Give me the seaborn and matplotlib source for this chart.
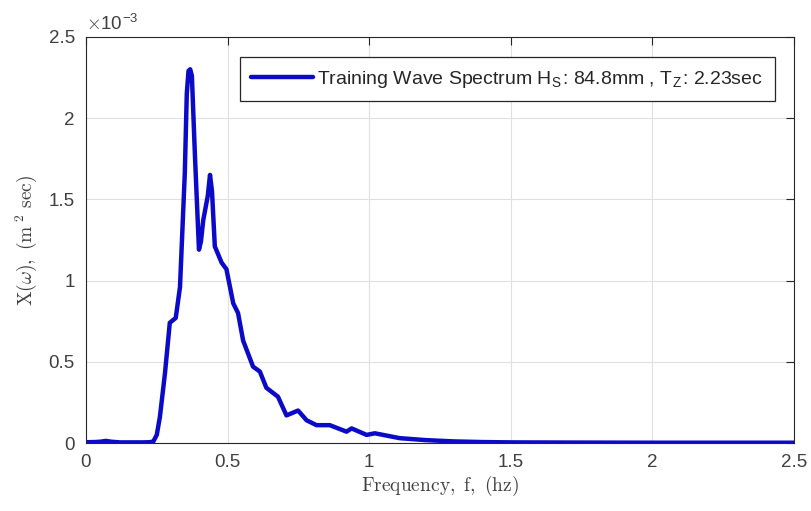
import numpy as np
import pandas as pd
import matplotlib
matplotlib.use("Agg")
import matplotlib.pyplot as plt
import seaborn as sns
from matplotlib.ticker import FuncFormatter

# Data (spectral density in units of 1e-3 m^2 sec)
freq = [0.0, 0.03, 0.05, 0.07, 0.09, 0.12, 0.16, 0.20, 0.225, 0.238, 0.25, 0.261, 0.279,
        0.296, 0.317, 0.332, 0.349, 0.356, 0.362, 0.368, 0.374, 0.385, 0.399, 0.406, 0.414,
        0.430, 0.438, 0.445, 0.455,
        0.479, 0.496, 0.520, 0.537, 0.555, 0.590, 0.614, 0.637, 0.678, 0.708, 0.749,
        0.779, 0.814, 0.861, 0.920, 0.938, 0.991, 1.02, 1.108, 1.2, 1.3, 1.4, 1.5,
        1.7, 2.0, 2.3, 2.5]
spec = [0.005, 0.006, 0.008, 0.013, 0.008, 0.004, 0.004, 0.004, 0.005, 0.01, 0.05, 0.16, 0.43,
        0.74, 0.77, 0.96, 1.66, 2.15, 2.29, 2.30, 2.26, 1.76, 1.19, 1.24, 1.37,
        1.52, 1.65, 1.55, 1.21,
        1.11, 1.07, 0.86, 0.80, 0.63, 0.47, 0.44, 0.34, 0.285, 0.17, 0.20,
        0.14, 0.11, 0.11, 0.07, 0.09, 0.05, 0.06, 0.03, 0.018, 0.01, 0.006, 0.004,
        0.003, 0.002, 0.002, 0.002]
legend_label = r"Training Wave Spectrum H$_{\mathregular{S}}$: 84.8mm , T$_{\mathregular{Z}}$: 2.23sec"

df = pd.DataFrame({"f": freq, "X": np.array(spec) * 1e-3})

sns.set_style("whitegrid")
plt.rcParams["font.family"] = ["Liberation Sans", "DejaVu Sans"]
plt.rcParams["mathtext.fontset"] = "cm"

fig = plt.figure(figsize=(8.11, 5.11), dpi=100)
ax = fig.add_axes([0.106, 0.133, 0.873, 0.795])

sns.lineplot(data=df, x="f", y="X", ax=ax, color="#0a0ac8", linewidth=3.2,
             label=legend_label)

ax.set_xlim(0, 2.5)
ax.set_ylim(0, 2.5e-3)
ax.set_xticks([0, 0.5, 1, 1.5, 2, 2.5])
ax.set_xticklabels(["0", "0.5", "1", "1.5", "2", "2.5"])
ax.set_yticks(np.arange(0, 2.51e-3, 0.5e-3))
ax.yaxis.set_major_formatter(FuncFormatter(lambda v, p: f"{v * 1e3:g}"))
ax.text(0.0, 1.008, r"$\times$10$^{\mathregular{-3}}$", transform=ax.transAxes,
        fontsize=13.5, color="#404040", ha="left", va="bottom")

ax.grid(True, color="#e0e0e0", linewidth=0.8)
for s in ax.spines.values():
    s.set_visible(True)
    s.set_color("#262626")
    s.set_linewidth(0.8)
ax.tick_params(axis="both", direction="in", length=6, width=0.8, colors="#262626",
               labelsize=13.5, labelcolor="#404040", top=True, right=True, pad=8)

ax.set_xlabel(r"$\mathrm{Frequency,\ f,\ (hz)}$", fontsize=14, color="#404040", labelpad=2)
ax.set_ylabel(r"$\mathrm{X}(\omega),\ (\mathrm{m}^{\ 2}\ \mathrm{sec})$", fontsize=14,
              color="#404040", labelpad=7)

leg = ax.legend(loc="upper right", bbox_to_anchor=(0.973, 0.95), fontsize=14,
                frameon=True, fancybox=False, edgecolor="#262626", framealpha=1,
                handlelength=3.2, handletextpad=0.2, borderpad=0.6, borderaxespad=0)
leg.get_frame().set_linewidth(0.9)

fig.savefig("out.png", dpi=100)
